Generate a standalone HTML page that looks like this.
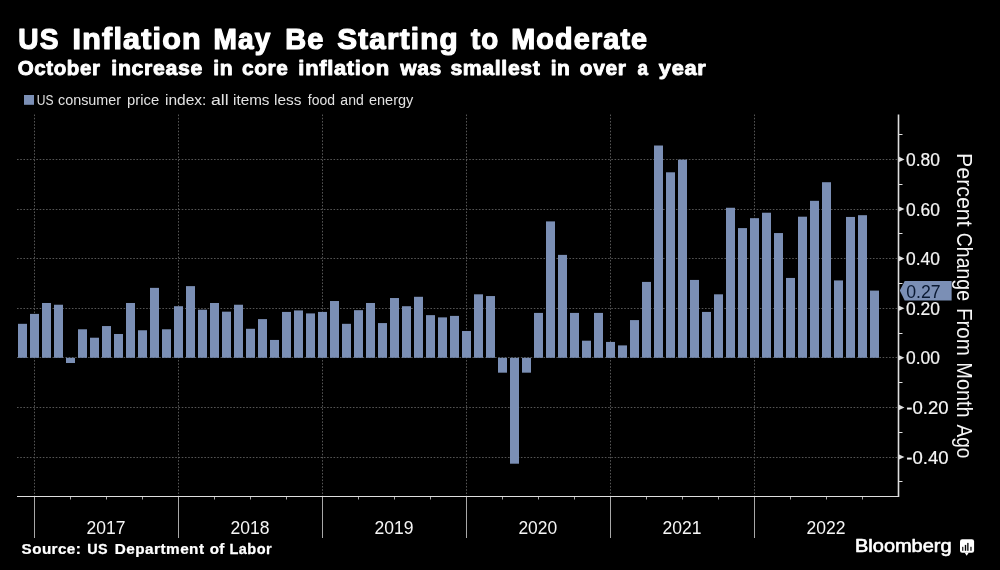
<!DOCTYPE html>
<html><head><meta charset="utf-8">
<style>
html,body{margin:0;padding:0;background:#000;}
body{width:1000px;height:570px;overflow:hidden;position:relative;}
svg{position:absolute;left:0;top:0;font-family:"Liberation Sans",sans-serif;will-change:transform;}
</style></head><body>
<svg width="1000" height="570">
<line x1="17" y1="159.5" x2="898" y2="159.5" stroke="#555555" stroke-width="1" stroke-dasharray="1.6 1.63"/>
<line x1="17" y1="209.5" x2="898" y2="209.5" stroke="#555555" stroke-width="1" stroke-dasharray="1.6 1.63"/>
<line x1="17" y1="258.5" x2="898" y2="258.5" stroke="#555555" stroke-width="1" stroke-dasharray="1.6 1.63"/>
<line x1="17" y1="308.5" x2="898" y2="308.5" stroke="#555555" stroke-width="1" stroke-dasharray="1.6 1.63"/>
<line x1="17" y1="357.5" x2="898" y2="357.5" stroke="#555555" stroke-width="1" stroke-dasharray="1.6 1.63"/>
<line x1="17" y1="407.5" x2="898" y2="407.5" stroke="#555555" stroke-width="1" stroke-dasharray="1.6 1.63"/>
<line x1="17" y1="457.5" x2="898" y2="457.5" stroke="#555555" stroke-width="1" stroke-dasharray="1.6 1.63"/>
<line x1="34.5" y1="114.5" x2="34.5" y2="496" stroke="#555555" stroke-width="1" stroke-dasharray="1.6 1.63"/>
<line x1="178.5" y1="114.5" x2="178.5" y2="496" stroke="#555555" stroke-width="1" stroke-dasharray="1.6 1.63"/>
<line x1="322.5" y1="114.5" x2="322.5" y2="496" stroke="#555555" stroke-width="1" stroke-dasharray="1.6 1.63"/>
<line x1="466.5" y1="114.5" x2="466.5" y2="496" stroke="#555555" stroke-width="1" stroke-dasharray="1.6 1.63"/>
<line x1="610.5" y1="114.5" x2="610.5" y2="496" stroke="#555555" stroke-width="1" stroke-dasharray="1.6 1.63"/>
<line x1="754.5" y1="114.5" x2="754.5" y2="496" stroke="#555555" stroke-width="1" stroke-dasharray="1.6 1.63"/>
<rect x="18" y="323.82" width="9" height="33.98" fill="#7b8fb5"/>
<rect x="30" y="313.90" width="9" height="43.90" fill="#7b8fb5"/>
<rect x="42" y="302.99" width="9" height="54.81" fill="#7b8fb5"/>
<rect x="54" y="304.73" width="9" height="53.07" fill="#7b8fb5"/>
<rect x="66" y="357.80" width="9" height="5.21" fill="#7b8fb5"/>
<rect x="78" y="329.28" width="9" height="28.52" fill="#7b8fb5"/>
<rect x="90" y="337.71" width="9" height="20.09" fill="#7b8fb5"/>
<rect x="102" y="326.06" width="9" height="31.74" fill="#7b8fb5"/>
<rect x="114" y="333.99" width="9" height="23.81" fill="#7b8fb5"/>
<rect x="126" y="302.99" width="9" height="54.81" fill="#7b8fb5"/>
<rect x="138" y="330.27" width="9" height="27.53" fill="#7b8fb5"/>
<rect x="150" y="287.86" width="9" height="69.94" fill="#7b8fb5"/>
<rect x="162" y="329.28" width="9" height="28.52" fill="#7b8fb5"/>
<rect x="174" y="306.22" width="9" height="51.58" fill="#7b8fb5"/>
<rect x="186" y="286.13" width="9" height="71.67" fill="#7b8fb5"/>
<rect x="198" y="309.69" width="9" height="48.11" fill="#7b8fb5"/>
<rect x="210" y="302.99" width="9" height="54.81" fill="#7b8fb5"/>
<rect x="222" y="311.67" width="9" height="46.13" fill="#7b8fb5"/>
<rect x="234" y="304.73" width="9" height="53.07" fill="#7b8fb5"/>
<rect x="246" y="328.78" width="9" height="29.02" fill="#7b8fb5"/>
<rect x="258" y="319.11" width="9" height="38.69" fill="#7b8fb5"/>
<rect x="270" y="339.94" width="9" height="17.86" fill="#7b8fb5"/>
<rect x="282" y="311.92" width="9" height="45.88" fill="#7b8fb5"/>
<rect x="294" y="310.43" width="9" height="47.37" fill="#7b8fb5"/>
<rect x="306" y="313.41" width="9" height="44.39" fill="#7b8fb5"/>
<rect x="318" y="311.92" width="9" height="45.88" fill="#7b8fb5"/>
<rect x="330" y="301.01" width="9" height="56.79" fill="#7b8fb5"/>
<rect x="342" y="323.82" width="9" height="33.98" fill="#7b8fb5"/>
<rect x="354" y="310.18" width="9" height="47.62" fill="#7b8fb5"/>
<rect x="366" y="302.99" width="9" height="54.81" fill="#7b8fb5"/>
<rect x="378" y="323.08" width="9" height="34.72" fill="#7b8fb5"/>
<rect x="390" y="298.03" width="9" height="59.77" fill="#7b8fb5"/>
<rect x="402" y="306.22" width="9" height="51.58" fill="#7b8fb5"/>
<rect x="414" y="296.79" width="9" height="61.01" fill="#7b8fb5"/>
<rect x="426" y="315.14" width="9" height="42.66" fill="#7b8fb5"/>
<rect x="438" y="317.38" width="9" height="40.42" fill="#7b8fb5"/>
<rect x="450" y="315.89" width="9" height="41.91" fill="#7b8fb5"/>
<rect x="462" y="331.02" width="9" height="26.78" fill="#7b8fb5"/>
<rect x="474" y="294.31" width="9" height="63.49" fill="#7b8fb5"/>
<rect x="486" y="296.05" width="9" height="61.75" fill="#7b8fb5"/>
<rect x="498" y="357.80" width="9" height="14.88" fill="#7b8fb5"/>
<rect x="510" y="357.80" width="9" height="105.90" fill="#7b8fb5"/>
<rect x="522" y="357.80" width="9" height="14.88" fill="#7b8fb5"/>
<rect x="534" y="312.91" width="9" height="44.89" fill="#7b8fb5"/>
<rect x="546" y="221.40" width="9" height="136.40" fill="#7b8fb5"/>
<rect x="558" y="254.88" width="9" height="102.92" fill="#7b8fb5"/>
<rect x="570" y="312.91" width="9" height="44.89" fill="#7b8fb5"/>
<rect x="582" y="340.69" width="9" height="17.11" fill="#7b8fb5"/>
<rect x="594" y="312.91" width="9" height="44.89" fill="#7b8fb5"/>
<rect x="606" y="341.93" width="9" height="15.87" fill="#7b8fb5"/>
<rect x="618" y="345.40" width="9" height="12.40" fill="#7b8fb5"/>
<rect x="630" y="320.10" width="9" height="37.70" fill="#7b8fb5"/>
<rect x="642" y="281.91" width="9" height="75.89" fill="#7b8fb5"/>
<rect x="654" y="145.51" width="9" height="212.29" fill="#7b8fb5"/>
<rect x="666" y="172.30" width="9" height="185.50" fill="#7b8fb5"/>
<rect x="678" y="159.65" width="9" height="198.15" fill="#7b8fb5"/>
<rect x="690" y="279.93" width="9" height="77.87" fill="#7b8fb5"/>
<rect x="702" y="311.92" width="9" height="45.88" fill="#7b8fb5"/>
<rect x="714" y="294.31" width="9" height="63.49" fill="#7b8fb5"/>
<rect x="726" y="207.76" width="9" height="150.04" fill="#7b8fb5"/>
<rect x="738" y="228.10" width="9" height="129.70" fill="#7b8fb5"/>
<rect x="750" y="218.18" width="9" height="139.62" fill="#7b8fb5"/>
<rect x="762" y="212.72" width="9" height="145.08" fill="#7b8fb5"/>
<rect x="774" y="233.06" width="9" height="124.74" fill="#7b8fb5"/>
<rect x="786" y="277.94" width="9" height="79.86" fill="#7b8fb5"/>
<rect x="798" y="216.69" width="9" height="141.11" fill="#7b8fb5"/>
<rect x="810" y="200.82" width="9" height="156.98" fill="#7b8fb5"/>
<rect x="822" y="182.22" width="9" height="175.58" fill="#7b8fb5"/>
<rect x="834" y="280.42" width="9" height="77.38" fill="#7b8fb5"/>
<rect x="846" y="216.94" width="9" height="140.86" fill="#7b8fb5"/>
<rect x="858" y="215.20" width="9" height="142.60" fill="#7b8fb5"/>
<rect x="870" y="290.59" width="9" height="67.21" fill="#7b8fb5"/>
<path d="M17 496.5 H898.5" fill="none" stroke="#dedede" stroke-width="1.2"/>
<path d="M898.5 497 V114.5" fill="none" stroke="#dedede" stroke-width="1.6"/>
<line x1="34.5" y1="497" x2="34.5" y2="538" stroke="#a8a8a8" stroke-width="1"/>
<line x1="70.5" y1="497" x2="70.5" y2="499.5" stroke="#a8a8a8" stroke-width="1"/>
<line x1="106.5" y1="497" x2="106.5" y2="499.5" stroke="#a8a8a8" stroke-width="1"/>
<line x1="142.5" y1="497" x2="142.5" y2="499.5" stroke="#a8a8a8" stroke-width="1"/>
<line x1="178.5" y1="497" x2="178.5" y2="538" stroke="#a8a8a8" stroke-width="1"/>
<line x1="214.5" y1="497" x2="214.5" y2="499.5" stroke="#a8a8a8" stroke-width="1"/>
<line x1="250.5" y1="497" x2="250.5" y2="499.5" stroke="#a8a8a8" stroke-width="1"/>
<line x1="286.5" y1="497" x2="286.5" y2="499.5" stroke="#a8a8a8" stroke-width="1"/>
<line x1="322.5" y1="497" x2="322.5" y2="538" stroke="#a8a8a8" stroke-width="1"/>
<line x1="358.5" y1="497" x2="358.5" y2="499.5" stroke="#a8a8a8" stroke-width="1"/>
<line x1="394.5" y1="497" x2="394.5" y2="499.5" stroke="#a8a8a8" stroke-width="1"/>
<line x1="430.5" y1="497" x2="430.5" y2="499.5" stroke="#a8a8a8" stroke-width="1"/>
<line x1="466.5" y1="497" x2="466.5" y2="538" stroke="#a8a8a8" stroke-width="1"/>
<line x1="502.5" y1="497" x2="502.5" y2="499.5" stroke="#a8a8a8" stroke-width="1"/>
<line x1="538.5" y1="497" x2="538.5" y2="499.5" stroke="#a8a8a8" stroke-width="1"/>
<line x1="574.5" y1="497" x2="574.5" y2="499.5" stroke="#a8a8a8" stroke-width="1"/>
<line x1="610.5" y1="497" x2="610.5" y2="538" stroke="#a8a8a8" stroke-width="1"/>
<line x1="646.5" y1="497" x2="646.5" y2="499.5" stroke="#a8a8a8" stroke-width="1"/>
<line x1="682.5" y1="497" x2="682.5" y2="499.5" stroke="#a8a8a8" stroke-width="1"/>
<line x1="718.5" y1="497" x2="718.5" y2="499.5" stroke="#a8a8a8" stroke-width="1"/>
<line x1="754.5" y1="497" x2="754.5" y2="538" stroke="#a8a8a8" stroke-width="1"/>
<line x1="790.5" y1="497" x2="790.5" y2="499.5" stroke="#a8a8a8" stroke-width="1"/>
<line x1="826.5" y1="497" x2="826.5" y2="499.5" stroke="#a8a8a8" stroke-width="1"/>
<line x1="862.5" y1="497" x2="862.5" y2="499.5" stroke="#a8a8a8" stroke-width="1"/>
<path d="M898.5 156.60 L904.5 159.40 L898.5 162.20 Z" fill="#dedede"/>
<path d="M898.5 206.20 L904.5 209.00 L898.5 211.80 Z" fill="#dedede"/>
<path d="M898.5 255.80 L904.5 258.60 L898.5 261.40 Z" fill="#dedede"/>
<path d="M898.5 305.40 L904.5 308.20 L898.5 311.00 Z" fill="#dedede"/>
<path d="M898.5 355.00 L904.5 357.80 L898.5 360.60 Z" fill="#dedede"/>
<path d="M898.5 404.60 L904.5 407.40 L898.5 410.20 Z" fill="#dedede"/>
<path d="M898.5 454.20 L904.5 457.00 L898.5 459.80 Z" fill="#dedede"/>
<line x1="898.5" y1="134.5" x2="902.5" y2="134.5" stroke="#dedede" stroke-width="1"/>
<line x1="898.5" y1="184.5" x2="902.5" y2="184.5" stroke="#dedede" stroke-width="1"/>
<line x1="898.5" y1="233.5" x2="902.5" y2="233.5" stroke="#dedede" stroke-width="1"/>
<line x1="898.5" y1="283.5" x2="902.5" y2="283.5" stroke="#dedede" stroke-width="1"/>
<line x1="898.5" y1="333.5" x2="902.5" y2="333.5" stroke="#dedede" stroke-width="1"/>
<line x1="898.5" y1="382.5" x2="902.5" y2="382.5" stroke="#dedede" stroke-width="1"/>
<line x1="898.5" y1="432.5" x2="902.5" y2="432.5" stroke="#dedede" stroke-width="1"/>
<line x1="898.5" y1="481.5" x2="902.5" y2="481.5" stroke="#dedede" stroke-width="1"/>
<text transform="translate(905.95,165.90) scale(0.9240,1)" font-size="18.90" font-weight="normal" fill="#f6f6f6" stroke="#f6f6f6" stroke-width="0.2" stroke-linejoin="round">0.80</text>
<text transform="translate(905.95,215.50) scale(0.9240,1)" font-size="18.90" font-weight="normal" fill="#f6f6f6" stroke="#f6f6f6" stroke-width="0.2" stroke-linejoin="round">0.60</text>
<text transform="translate(905.95,265.10) scale(0.9240,1)" font-size="18.90" font-weight="normal" fill="#f6f6f6" stroke="#f6f6f6" stroke-width="0.2" stroke-linejoin="round">0.40</text>
<text transform="translate(905.95,314.70) scale(0.9240,1)" font-size="18.90" font-weight="normal" fill="#f6f6f6" stroke="#f6f6f6" stroke-width="0.2" stroke-linejoin="round">0.20</text>
<text transform="translate(905.95,364.30) scale(0.9240,1)" font-size="18.90" font-weight="normal" fill="#f6f6f6" stroke="#f6f6f6" stroke-width="0.2" stroke-linejoin="round">0.00</text>
<text transform="translate(906.32,413.90) scale(0.9808,1)" font-size="18.90" font-weight="normal" fill="#f6f6f6" stroke="#f6f6f6" stroke-width="0.2" stroke-linejoin="round">-0.20</text>
<text transform="translate(906.32,463.50) scale(0.9808,1)" font-size="18.90" font-weight="normal" fill="#f6f6f6" stroke="#f6f6f6" stroke-width="0.2" stroke-linejoin="round">-0.40</text>
<text transform="translate(86.43,533.50) scale(0.9358,1)" font-size="18.75" font-weight="normal" fill="#f6f6f6">2017</text>
<text transform="translate(230.43,533.50) scale(0.9358,1)" font-size="18.75" font-weight="normal" fill="#f6f6f6">2018</text>
<text transform="translate(374.43,533.50) scale(0.9358,1)" font-size="18.75" font-weight="normal" fill="#f6f6f6">2019</text>
<text transform="translate(518.43,533.50) scale(0.9290,1)" font-size="18.75" font-weight="normal" fill="#f6f6f6">2020</text>
<text transform="translate(662.43,533.50) scale(0.9358,1)" font-size="18.75" font-weight="normal" fill="#f6f6f6">2021</text>
<text transform="translate(806.43,533.50) scale(0.9358,1)" font-size="18.75" font-weight="normal" fill="#f6f6f6">2022</text>
<path d="M899.8 290.59 L904.7 281 H951.6 V300.6 H904.7 Z" fill="#7b8fb5"/>
<text transform="translate(906.25,297.80) scale(0.9373,1)" font-size="18.90" font-weight="normal" fill="#0b1a33">0.27</text>
<text transform="translate(18.28,49.20) scale(0.9813,1)" font-size="28.63" font-weight="bold" fill="#ffffff" stroke="#ffffff" stroke-width="1.2" stroke-linejoin="round" letter-spacing="1.15">US</text>
<text transform="translate(72.60,49.20) scale(1.0629,1)" font-size="28.63" font-weight="bold" fill="#ffffff" stroke="#ffffff" stroke-width="1.2" stroke-linejoin="round" letter-spacing="1.15">Inflation</text>
<text transform="translate(213.54,49.20) scale(0.9808,1)" font-size="28.63" font-weight="bold" fill="#ffffff" stroke="#ffffff" stroke-width="1.2" stroke-linejoin="round" letter-spacing="1.15">May</text>
<text transform="translate(285.19,49.20) scale(1.0101,1)" font-size="28.63" font-weight="bold" fill="#ffffff" stroke="#ffffff" stroke-width="1.2" stroke-linejoin="round" letter-spacing="1.15">Be</text>
<text transform="translate(337.34,49.20) scale(1.0359,1)" font-size="28.63" font-weight="bold" fill="#ffffff" stroke="#ffffff" stroke-width="1.2" stroke-linejoin="round" letter-spacing="1.15">Starting</text>
<text transform="translate(471.00,49.20) scale(0.9694,1)" font-size="28.63" font-weight="bold" fill="#ffffff" stroke="#ffffff" stroke-width="1.2" stroke-linejoin="round" letter-spacing="1.15">to</text>
<text transform="translate(511.20,49.20) scale(1.0045,1)" font-size="28.63" font-weight="bold" fill="#ffffff" stroke="#ffffff" stroke-width="1.2" stroke-linejoin="round" letter-spacing="1.15">Moderate</text>
<text transform="translate(17.71,75.05) scale(0.9732,1)" font-size="21.08" font-weight="bold" fill="#ffffff" stroke="#ffffff" stroke-width="0.9" stroke-linejoin="round" letter-spacing="0.63">October</text>
<text transform="translate(111.32,75.05) scale(1.0111,1)" font-size="21.08" font-weight="bold" fill="#ffffff" stroke="#ffffff" stroke-width="0.9" stroke-linejoin="round" letter-spacing="0.63">increase</text>
<text transform="translate(213.33,75.05) scale(1.0044,1)" font-size="21.08" font-weight="bold" fill="#ffffff" stroke="#ffffff" stroke-width="0.9" stroke-linejoin="round" letter-spacing="0.63">in</text>
<text transform="translate(242.00,75.05) scale(0.9883,1)" font-size="21.08" font-weight="bold" fill="#ffffff" stroke="#ffffff" stroke-width="0.9" stroke-linejoin="round" letter-spacing="0.63">core</text>
<text transform="translate(298.37,75.05) scale(1.0441,1)" font-size="21.08" font-weight="bold" fill="#ffffff" stroke="#ffffff" stroke-width="0.9" stroke-linejoin="round" letter-spacing="0.63">inflation</text>
<text transform="translate(400.18,75.05) scale(1.0006,1)" font-size="21.08" font-weight="bold" fill="#ffffff" stroke="#ffffff" stroke-width="0.9" stroke-linejoin="round" letter-spacing="0.63">was</text>
<text transform="translate(450.39,75.05) scale(1.0089,1)" font-size="21.08" font-weight="bold" fill="#ffffff" stroke="#ffffff" stroke-width="0.9" stroke-linejoin="round" letter-spacing="0.63">smallest</text>
<text transform="translate(550.63,75.05) scale(0.9985,1)" font-size="21.08" font-weight="bold" fill="#ffffff" stroke="#ffffff" stroke-width="0.9" stroke-linejoin="round" letter-spacing="0.63">in</text>
<text transform="translate(579.79,75.05) scale(0.9965,1)" font-size="21.08" font-weight="bold" fill="#ffffff" stroke="#ffffff" stroke-width="0.9" stroke-linejoin="round" letter-spacing="0.63">over</text>
<text transform="translate(637.56,75.05) scale(0.8937,1)" font-size="21.08" font-weight="bold" fill="#ffffff" stroke="#ffffff" stroke-width="0.9" stroke-linejoin="round" letter-spacing="0.63">a</text>
<text transform="translate(658.85,75.05) scale(1.0386,1)" font-size="21.08" font-weight="bold" fill="#ffffff" stroke="#ffffff" stroke-width="0.9" stroke-linejoin="round" letter-spacing="0.63">year</text>
<rect x="24" y="95" width="10" height="9.8" fill="#7b8fb5"/>
<text transform="translate(36.75,105.30) scale(0.8138,1)" font-size="14.83" font-weight="normal" fill="#e2e2e2">US</text>
<text transform="translate(58.05,105.30) scale(0.9681,1)" font-size="14.83" font-weight="normal" fill="#e2e2e2">consumer</text>
<text transform="translate(127.08,105.30) scale(0.9965,1)" font-size="14.83" font-weight="normal" fill="#e2e2e2">price</text>
<text transform="translate(165.03,105.30) scale(1.0457,1)" font-size="14.83" font-weight="normal" fill="#e2e2e2">index:</text>
<text transform="translate(210.95,105.30) scale(1.1947,1)" font-size="14.83" font-weight="normal" fill="#e2e2e2">all</text>
<text transform="translate(233.05,105.30) scale(1.0285,1)" font-size="14.83" font-weight="normal" fill="#e2e2e2">items</text>
<text transform="translate(274.04,105.30) scale(1.0411,1)" font-size="14.83" font-weight="normal" fill="#e2e2e2">less</text>
<text transform="translate(307.80,105.30) scale(0.9421,1)" font-size="14.83" font-weight="normal" fill="#e2e2e2">food</text>
<text transform="translate(340.36,105.30) scale(0.9471,1)" font-size="14.83" font-weight="normal" fill="#e2e2e2">and</text>
<text transform="translate(368.95,105.30) scale(0.9807,1)" font-size="14.83" font-weight="normal" fill="#e2e2e2">energy</text>
<text transform="translate(21.59,554.27) scale(1.0935,1)" font-size="13.88" font-weight="bold" fill="#ffffff" stroke="#ffffff" stroke-width="0.25" stroke-linejoin="round" letter-spacing="0.42">Source:</text>
<text transform="translate(87.25,554.27) scale(1.0357,1)" font-size="13.88" font-weight="bold" fill="#ffffff" stroke="#ffffff" stroke-width="0.25" stroke-linejoin="round" letter-spacing="0.42">US</text>
<text transform="translate(114.77,554.27) scale(1.1039,1)" font-size="13.88" font-weight="bold" fill="#ffffff" stroke="#ffffff" stroke-width="0.25" stroke-linejoin="round" letter-spacing="0.42">Department</text>
<text transform="translate(209.65,554.27) scale(1.0920,1)" font-size="13.88" font-weight="bold" fill="#ffffff" stroke="#ffffff" stroke-width="0.25" stroke-linejoin="round" letter-spacing="0.42">of</text>
<text transform="translate(229.52,554.27) scale(1.0483,1)" font-size="13.88" font-weight="bold" fill="#ffffff" stroke="#ffffff" stroke-width="0.25" stroke-linejoin="round" letter-spacing="0.42">Labor</text>
<text transform="translate(855.04,552.40) scale(1.1171,1)" font-size="17.88" font-weight="normal" fill="#ffffff" stroke="#ffffff" stroke-width="0.6" stroke-linejoin="round">Bloomberg</text>
<g transform="translate(957,0) rotate(90)">
<text transform="translate(153.03,0.00) scale(0.9603,1)" font-size="22.24" font-weight="normal" fill="#f6f6f6">Percent</text>
<text transform="translate(232.79,0.00) scale(0.8755,1)" font-size="22.24" font-weight="normal" fill="#f6f6f6">Change</text>
<text transform="translate(308.00,0.00) scale(0.9205,1)" font-size="22.24" font-weight="normal" fill="#f6f6f6">From</text>
<text transform="translate(362.35,0.00) scale(0.8942,1)" font-size="22.24" font-weight="normal" fill="#f6f6f6">Month</text>
<text transform="translate(424.60,0.00) scale(0.8560,1)" font-size="22.24" font-weight="normal" fill="#f6f6f6">Ago</text>
</g>
<g><rect x="960" y="539.2" width="14.1" height="13.6" rx="2.2" fill="#fff"/><path d="M964.6 552.6 L966.7 555.7 L968.8 552.6 Z" fill="#fff"/><rect x="962" y="546.8" width="1.4" height="4" fill="#333"/><rect x="964.8" y="544.9" width="1.4" height="5.9" fill="#000"/><rect x="967.1" y="542.9" width="1.5" height="7.9" fill="#222"/><rect x="970.2" y="546.8" width="1.5" height="4" fill="#333"/></g>
</svg>
</body></html>
